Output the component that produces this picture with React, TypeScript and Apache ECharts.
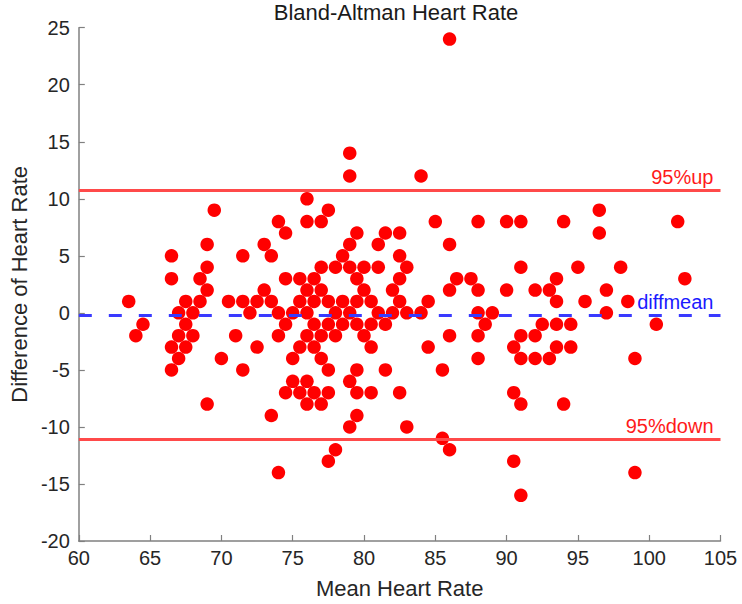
import React, { useEffect, useRef } from "react";
import * as echarts from "echarts";

// Mean heart rate (x) and difference of heart rate (y)
const meanHR: number[] = [
  86,
  79,
  79, 84,
  76,
  69.5, 77.5, 96.5,
  74, 76, 77, 85, 88, 90, 91, 94, 102,
  74.5, 79.5, 81.5, 82.5, 96.5,
  69, 73, 79, 81, 86,
  66.5, 71.5, 73.5, 78.5, 82.5,
  69, 77, 78, 79, 80, 81, 83, 91, 95, 98,
  66.5, 68.5, 74.5, 75.5, 76.5, 79.5, 82.5, 86.5, 87.5, 93.5, 102.5,
  69, 73, 76, 77, 80, 82, 86, 88, 90, 92, 93, 97,
  63.5, 67.5, 68.5, 70.5, 71.5, 72.5, 73.5, 75.5, 76.5, 77.5, 78.5, 79.5, 80.5, 82.5, 84.5, 93.5, 95.5, 98.5,
  67, 68, 72, 74, 75, 76, 78, 79, 81, 82, 83, 84, 88, 89, 97,
  64.5, 67.5, 74.5, 76.5, 77.5, 78.5, 79.5, 80.5, 81.5, 88.5, 92.5, 93.5, 94.5, 100.5,
  64, 67, 68, 71, 74, 76, 77, 78, 80, 86, 88, 91, 92,
  66.5, 67.5, 72.5, 75.5, 76.5, 80.5, 84.5, 90.5, 93.5, 94.5,
  67, 70, 75, 77, 88, 91, 92, 93, 99,
  66.5, 71.5, 77.5, 79.5, 81.5, 85.5,
  75, 76, 79,
  74.5, 75.5, 76.5, 77.5, 79.5, 80.5, 82.5, 90.5,
  69, 76, 77, 91, 94,
  73.5, 79.5,
  79, 83,
  85.5,
  78, 86,
  77.5, 90.5,
  74, 99,
  91,
];

const diffHR: number[] = [
  24,
  14,
  12, 12,
  10,
  9, 9, 9,
  8, 8, 8, 8, 8, 8, 8, 8, 8,
  7, 7, 7, 7, 7,
  6, 6, 6, 6, 6,
  5, 5, 5, 5, 5,
  4, 4, 4, 4, 4, 4, 4, 4, 4, 4,
  3, 3, 3, 3, 3, 3, 3, 3, 3, 3, 3,
  2, 2, 2, 2, 2, 2, 2, 2, 2, 2, 2, 2,
  1, 1, 1, 1, 1, 1, 1, 1, 1, 1, 1, 1, 1, 1, 1, 1, 1, 1,
  0, 0, 0, 0, 0, 0, 0, 0, 0, 0, 0, 0, 0, 0, 0,
  -1, -1, -1, -1, -1, -1, -1, -1, -1, -1, -1, -1, -1, -1,
  -2, -2, -2, -2, -2, -2, -2, -2, -2, -2, -2, -2, -2,
  -3, -3, -3, -3, -3, -3, -3, -3, -3, -3,
  -4, -4, -4, -4, -4, -4, -4, -4, -4,
  -5, -5, -5, -5, -5, -5,
  -6, -6, -6,
  -7, -7, -7, -7, -7, -7, -7, -7,
  -8, -8, -8, -8, -8,
  -9, -9,
  -10, -10,
  -11,
  -12, -12,
  -13, -13,
  -14, -14,
  -16,
];

const limitUp = 10.77;
const diffMean = -0.165;
const limitDown = -11.1;

const xRange = [60, 105];
const yRange = [-20, 25];
const tickStep = 5;

const FONT = "'Liberation Sans', Arial, Helvetica, sans-serif";

export default function App() {
  const ref = useRef<HTMLDivElement>(null);

  useEffect(() => {
    document.body.style.margin = "0";
    if (!ref.current) return;
    const chart = echarts.init(ref.current, undefined, { renderer: "svg" });

    const axisColor = "#808080";
    const textColor = "#262626";

    const option: any = {
      animation: false,
      backgroundColor: "#ffffff",
      textStyle: { fontFamily: FONT },
      grid: { left: 69, right: 21.5, top: 27.7, bottom: 62.3, containLabel: false },
      graphic: [
        {
          type: "text",
          x: 396,
          y: 12,
          silent: true,
          style: {
            text: "Bland-Altman Heart Rate",
            fontFamily: FONT,
            fontSize: 22,
            fill: "#1a1a1a",
            textAlign: "center",
            textVerticalAlign: "middle",
          },
        },
      ],
      xAxis: {
        type: "value",
        min: xRange[0],
        max: xRange[1],
        interval: tickStep,
        name: "Mean Heart Rate",
        nameLocation: "middle",
        nameGap: 36,
        nameTextStyle: { fontSize: 22, color: textColor, fontFamily: FONT },
        axisLine: { onZero: false, lineStyle: { color: axisColor, width: 1.5 } },
        axisTick: { inside: true, length: 6, lineStyle: { color: axisColor, width: 1.2 } },
        axisLabel: { fontSize: 20, color: textColor, margin: 7, showMinLabel: true, showMaxLabel: true, fontFamily: FONT },
        splitLine: { show: false },
      },
      yAxis: {
        type: "value",
        min: yRange[0],
        max: yRange[1],
        interval: tickStep,
        name: "Difference of Heart Rate",
        nameLocation: "middle",
        nameGap: 46,
        nameTextStyle: { fontSize: 22, color: textColor, fontFamily: FONT },
        axisLine: { onZero: false, lineStyle: { color: axisColor, width: 1.5 } },
        axisTick: { inside: true, length: 6, lineStyle: { color: axisColor, width: 1.2 } },
        axisLabel: { fontSize: 20, color: textColor, margin: 9, showMinLabel: true, showMaxLabel: true, fontFamily: FONT },
        splitLine: { show: false },
      },
      series: [
        {
          type: "scatter",
          data: meanHR.map((x, i) => [x, diffHR[i]]),
          symbol: "circle",
          symbolSize: 13.5,
          itemStyle: { color: "#ff0000", opacity: 1 },
          markLine: {
            silent: true,
            symbol: "none",
            animation: false,
            data: [
              {
                yAxis: limitUp,
                lineStyle: { color: "#ff4a4a", width: 3, type: "solid" },
                label: {
                  show: true,
                  formatter: "95%up",
                  position: "insideEndTop",
                  distance: [7, 3],
                  color: "#ff1a1a",
                  fontSize: 20,
                  fontFamily: FONT,
                },
              },
              {
                yAxis: diffMean,
                lineStyle: { color: "#3a3aff", width: 3, type: [13, 17] },
                label: {
                  show: true,
                  formatter: "diffmean",
                  position: "insideEndTop",
                  distance: [7, 3],
                  color: "#1a1aff",
                  fontSize: 20,
                  fontFamily: FONT,
                },
              },
              {
                yAxis: limitDown,
                lineStyle: { color: "#ff4a4a", width: 3, type: "solid" },
                label: {
                  show: true,
                  formatter: "95%down",
                  position: "insideEndTop",
                  distance: [7, 3],
                  color: "#ff1a1a",
                  fontSize: 20,
                  fontFamily: FONT,
                },
              },
            ],
          },
        },
      ],
    };

    chart.setOption(option);
    return () => {
      chart.dispose();
    };
  }, []);

  return <div ref={ref} style={{ width: 742, height: 604 }} />;
}
